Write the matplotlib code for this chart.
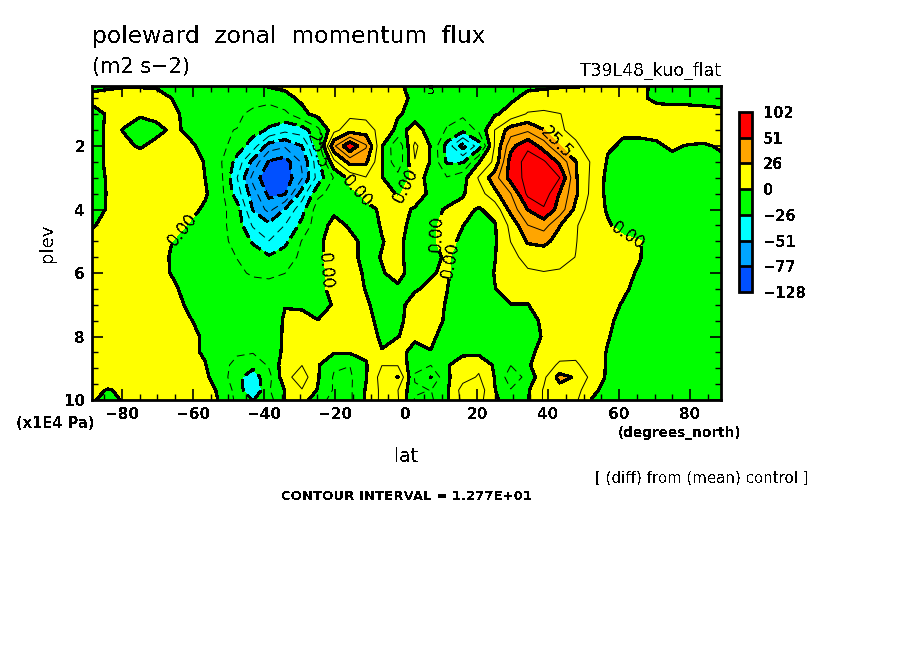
import numpy as np
import matplotlib
matplotlib.use('Agg')
import matplotlib.pyplot as plt
from matplotlib.ticker import MultipleLocator

plt.rcParams['font.family'] = ['DejaVu Sans']
plt.rcParams['text.antialiased'] = False

W, H = 904, 654

lat = [-88.5, -84, -79.4, -74.9, -70.4, -65.6, -61.1, -56.6, -52.1, -47.6,
       -43.1, -38.6, -34.1, -29.3, -24.8, -20.3, -15.8, -11.3, -6.8, -2.3,
       2.5, 7, 11.5, 16, 20.5, 25, 29.5, 34.3, 38.8, 43.3,
       47.8, 52.3, 56.8, 61.2, 66, 70.5, 75, 79.5, 84, 88.7]

plev = [0.11, 0.49, 0.99, 1.5, 2, 2.5, 3, 3.5, 4, 4.5, 5, 5.5, 6, 6.5, 7, 7.5,
        8, 8.5, 8.9, 9.28, 9.69, 10]

# one row per pressure level
flux = [
    [-3, -2, -1, -1, -1, -1, -2, -3, -4, -4, -3, 1, 2, 3, 3, 3, 3, 3, 2, 1,
     -2, -3, -3, -3, -3, -3, -2, -2, -2, -1, -1, 1, 2, 2, 1, -1, -2, -2, -2, -2],
    [3, 5, 6, 6, 4, -0.5, -3, -5, -7, -8, -9, -8, -3, 2, 5, 6, 6, 6, 5, 3,
     -2, -3, -4, -4, -4, -3, -2, 3, 5, 6, 6, 6, 5, 4, 1.5, -2, -3, -3, -3, -3],
    [-4, 1, 3, 1, 3, 2, -3, -6, -9, -11, -15, -20, -16, -3, 4, 8, 10, 9, 6, 1,
     -3, -5, -8, -10, -8, -1.5, 4, 14, 15, 13, 10, 7, 5, 4, 4, 4, 4, 4, 3, 2],
    [-8, 3, -0.5, -4, -3, 2, -2, -7, -12, -13, -21, -27, -35, -32, -16, 9, 20, 19, 8, -3,
     3, -3, -14, -22, -10, 13, 32, 36, 26, 14, 10, 7, 5, 1, 2, 2, 4, 5, 5, 3],
    [-10, 4, 2, -1, 3, 4, 2, -3, -9, -19, -32, -57, -62, -51, -20, 36, 62, 40, 1, -24,
     16, -1, -30, -56, -32, 14, 47, 62, 45, 26, 14.5, 8, 1, -1, -2, -1, 1, -0.5, -1, 1],
    [-10, 4, 5, 5, 5, 5, 4, -0.5, -12, -30, -55, -78, -83, -62, -30, 9, 30, 28, 0.5, -22,
     12, -1, -27, -27, -1, 16, 57, 68, 66, 48, 26, 11, -1, -3, -4, -3, -2, -1.5, -2, -2],
    [-10, 2, 7, 8, 8, 7, 5, 0, -10, -38, -68, -88, -85, -65, -33, -12, 4, 12, 0.5, -8,
     4, -3, -12, -5, 14, 33, 56, 68, 72, 64, 27, 10, -3, -5, -5, -5, -5, -5, -5, -5],
    [-8, 1, 8, 9, 9, 8, 5, 1.5, -9, -32, -58, -80, -78, -45, -16, -8, -3, 2, 5, -1,
     5, -2, -5, -1, 7, 22, 38, 67, 72, 50, 28, 9, -3, -6, -7, -7, -7, -6, -6, -5],
    [-5, 1, 7, 9, 9, 7, 4, -2, -9, -20, -52, -68, -50, -30, -6, -2, -3, -2, 1, 3,
     -1, -3, 1, 3, -1, 4, 30, 51.5, 62, 46, 22, 6, -1, -6, -9, -9, -9, -8, -7, -6],
    [-1, 3, 6, 8, 7, 5, -1, -4, -10, -18, -40, -48, -38, -22, -5, 3, -1, -3, 0.5, 3,
     -3, -1, 1.5, 0.2, -4, -1, 16, 38, 44, 26, 14, 5, 1, -3, -7, -9, -10, -9, -8, -7],
    [3, 5, 6, 6, 5, -0.3, -4, -6, -10, -16, -27, -38, -29, -12, -2, 4, 2, -2, -0.3, 2,
     -4, -1.5, 3, -2, -5, -1.5, 13, 27, 28, 22, 13.5, 4, 3, 2, 0.5, -8, -10, -11, -10, -9],
    [4, 5, 5, 4, 3, -1, -4, -7, -9, -13, -19, -24, -19, -10, -1, 2, 2, -2, 0.3, 2,
     -4, -2, 1, -3, -6, -0.5, 9, 17, 20, 18, 12.5, 4, 2, 1.5, 0.3, -6, -10, -11, -10, -9],
    [5, 5, 4, 3, 2, -0.5, -4, -7, -9, -11, -14, -15, -12.9, -6, -1, 1, 3, -1, -0.5, 2,
     -3, -0.5, 1, -4, -7, 0.5, 6, 11, 12, 11, 8, 5, 4, 2, -1, -5, -9, -10, -10, -9],
    [5, 5, 4, 3, 2, 1, -2, -5, -7, -8, -9, -9, -8, -4, -1, 1, 3, -0.3, -1, -1,
     -0.5, 1, 0.2, -5, -8, -0.3, 4, 6, 7, 7, 6, 5, 3, 1, -2, -5, -9, -10, -10, -9],
    [5, 5, 4, 3, 2.5, 2, -1, -4, -6, -7, -7, -7, -0.3, -1, -5, 1, 3, 1, -3, -1.5,
     2, 3, -0.5, -6, -8, -5, -0.2, -0.3, 5, 6, 5, 4, 2, -0.5, -3, -6, -9, -10, -10, -9],
    [4.5, 5, 4, 3, 3, 2.5, 0.5, -2, -5, -6, -7, -5, 1, 2, 0.3, 2, 3, 2, -2, -1,
     2, 3, -1, -6, -8, -9, -8, -6, 3, 5, 5, 4, 1, -1.5, -4, -7, -8, -9, -9, -8],
    [3.5, 4, 4, 4, 4, 3.5, 2, -1, -3, -5, -6, -4, 1, 2, 3, 3, 3, 3, -1, -0.1,
     1, 1.5, -3, -7, -9, -10, -10, -7, 1.5, 4, 5, 3, 0.5, -3, -5, -7, -8, -8, -8, -7],
    [3, 3, 3.5, 4, 4, 4, 2, -1, -7, -11, -12, -9, 3, 5, 2, 1, 1, 2, 0.3, 2,
     -2, -0.3, -3, -2, -3, -4, -8, -4, 5, 10, 9, 4, -0.5, -4, -6, -7, -8, -8, -8, -7],
    [2, 2.5, 3, 4, 5, 6, 4, 0.5, -8, -17, -22, -11, 7, 12.5, 1, -11, -12.5, -1, 12.5, 12,
     -10, -12.5, -1, 5, 10, -2, -12.5, -2, 9, 14, 15, 6, -1, -5, -6, -7, -8, -8, -8, -7],
    [2, 2, 2, 3.5, 5, 6, 5, 2, -6, -22, -32, -17, 8, 20, 1, -14, -15, -1, 18, 26,
     -14, -26, -2, 8, 14, -0.5, -20, -9, 10, 30, 24, 9, -2, -6, -7, -8, -8, -7, -7, -6],
    [1, -0.2, 0.5, 3, 4, 5, 4, 2, -1, -18, -38, -14, 0.5, 12, -1, -14, -15, 1, 16, 13,
     -11, -13, -2, 18, 20, 0.5, -12, -1.5, 14, 20, 18, 3, -4, -6, -7, -7, -7, -6, -6, -5],
    [0.5, -1.5, 0.5, 2, 3, 3, 3, 2, -0.5, -16, -26, -18, 0, 6, -9, -16, -15, 1, 16, 14,
     -14, -15, -2, 16, 17, 2, -6, -1, 14, 16, 15, -0.5, -3, -5, -5, -5, -5, -4, -4, -4],
]

fill_levels = [-128, -76.6, -51.08, -25.54, 0, 25.54, 51.08, 102]
fill_colors = ['#0050ff', '#00a5ff', '#00ffff', '#00ff00', '#ffff00', '#ffa500', '#ff0000']
bar_labels = ['\u2212128', '\u221277', '\u221251', '\u221226', '0', '26', '51', '102']

thin_levels = [-63.85, -38.31, -12.77, 12.77, 38.31, 63.85]

# where the contour labels sit, lat / plev
label_spots = [(-62.8, 4.65), (-22.5, 5.94), (-13.5, 3.38), (-0.8, 3.2),
               (8.5, 4.74), (12.8, 5.59), (62.6, 4.8), (42.4, 1.9), (-25, 2.16)]


def put(x, y, s, size, ha='left', va='center', **kw):
    fig.text(x / W, 1 - y / H, s, fontsize=size, ha=ha, va=va, **kw)


fig = plt.figure(figsize=(W / 100, H / 100), dpi=100)
ax = fig.add_axes([92 / W, 1 - 400 / H, 629 / W, 314 / H])

z = np.array(flux)
cf = ax.contourf(lat, plev, z, levels=fill_levels, colors=fill_colors, antialiased=False)
thick_dash = (0, (5, 2.5))
thin_dash = (0, (8, 5))
ax.contour(lat, plev, z, levels=[-76.62, -51.08, 51.08], colors='k', linewidths=1.6,
           linestyles=[thick_dash, thick_dash, '-'], antialiased=False)
cs = ax.contour(lat, plev, z, levels=[-25.54, 0, 25.54], colors='k', linewidths=1.6,
                linestyles=[thick_dash, '-', '-'], antialiased=False)
ax.contour(lat, plev, z, levels=thin_levels, colors='k', linewidths=0.7,
           linestyles=[thin_dash, thin_dash, thin_dash, '-', '-', '-'], antialiased=True)

ax.set_xlim(-88.45, 88.73)
ax.set_ylim(10, 0.11)
ax.clabel(cs, manual=label_spots, inline=True, inline_spacing=1,
          fontsize=12, colors='k', fmt={-25.54: '25.5', 0: '0.00', 25.54: '25.5'})
ax.text(7, 0.25, '3', fontsize=9, ha='center', va='center')

ax.xaxis.set_major_locator(MultipleLocator(20))
ax.xaxis.set_minor_locator(MultipleLocator(5))
ax.yaxis.set_major_locator(MultipleLocator(2))
ax.yaxis.set_minor_locator(MultipleLocator(0.5))
ax.tick_params(which='major', direction='in', length=8, width=1.2, top=True, right=True,
               labelsize=11, pad=5)
ax.tick_params(which='minor', direction='in', length=4, width=1, top=True, right=True)
ax.set_xticks([-80, -60, -40, -20, 0, 20, 40, 60, 80])
ax.set_xticklabels(['\u221280', '\u221260', '\u221240', '\u221220', '0', '20', '40', '60', '80'],
                   fontweight='bold')
ax.set_yticks([2, 4, 6, 8, 10])
ax.set_yticklabels(['2', '4', '6', '8', '10'], fontweight='bold')
for sp in ax.spines.values():
    sp.set_linewidth(2)

# colour key
cax = fig.add_axes([739 / W, 1 - 292 / H, 13 / W, 180 / H])
cb = fig.colorbar(cf, cax=cax, spacing='uniform', drawedges=True)
cb.outline.set_linewidth(2)
cb.dividers.set_linewidth(2)
cb.set_ticks(fill_levels)
cb.set_ticklabels(bar_labels, fontweight='bold')
cb.ax.tick_params(length=0, labelsize=10.5, pad=8)

put(92, 37, 'poleward  zonal  momentum  flux', 16.8)
put(92, 67, '(m2 s\u22122)', 15)
put(721, 71, 'T39L48_kuo_flat', 12.4, ha='right')
put(47, 243, 'plev', 13, ha='center', rotation=90)
put(16, 423, '(x1E4 Pa)', 10.5, fontweight='bold')
put(406, 457, 'lat', 13.5, ha='center')
put(618, 433, '(degrees_north)', 9.8, fontweight='bold')
put(595, 478, '[ (diff) from (mean) control ]', 10.8)
put(281, 497, 'CONTOUR INTERVAL = 1.277E+01', 9.5, fontweight='bold')

fig.savefig('out.png', dpi=100)
